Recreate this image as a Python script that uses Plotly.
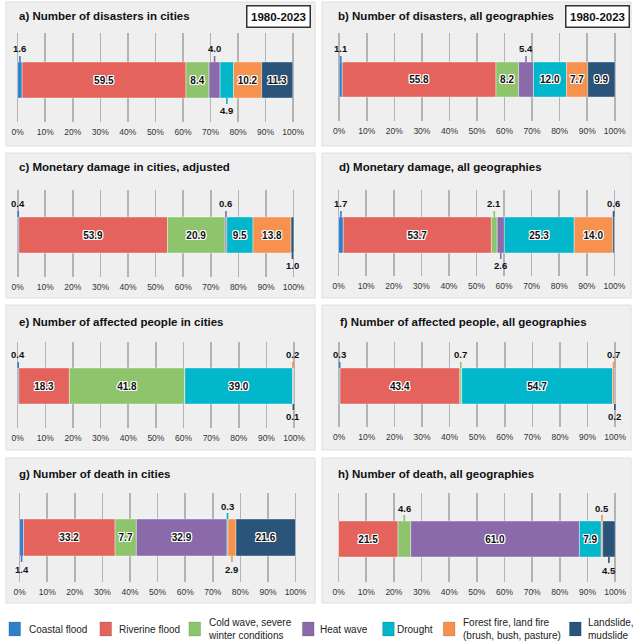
import plotly.graph_objects as go

# ---------------- data ----------------
categories = ["Coastal flood", "Riverine flood", "Cold wave, severe winter conditions",
              "Heat wave", "Drought", "Forest fire, land fire (brush, bush, pasture)",
              "Landslide, mudslide"]
legend_text = ["Coastal flood", "Riverine flood", "Cold wave, severe<br>winter conditions",
               "Heat wave", "Drought", "Forest fire, land fire<br>(brush, bush, pasture)",
               "Landslide,<br>mudslide"]

panel_titles = ["a) Number of disasters in cities",
                "b) Number of disasters, all geographies",
                "c) Monetary damage in cities, adjusted",
                "d) Monetary damage, all geographies",
                "e) Number of affected people in cities",
                "f) Number of affected people, all geographies",
                "g) Number of death in cities",
                "h) Number of death, all geographies"]
period_label = "1980-2023"

x_tick_vals = [0, 10, 20, 30, 40, 50, 60, 70, 80, 90, 100]
x_tick_text = ["0%", "10%", "20%", "30%", "40%", "50%", "60%", "70%", "80%", "90%", "100%"]

vals_a = [1.6, 59.5, 8.4, 4.0, 4.9, 10.2, 11.3]
vals_b = [1.1, 55.8, 8.2, 5.4, 12.0, 7.7, 9.9]
vals_c = [0.4, 53.9, 20.9, 0.6, 9.5, 13.8, 1.0]
vals_d = [1.7, 53.7, 2.1, 2.6, 25.3, 14.0, 0.6]
vals_e = [0.4, 18.3, 41.8, 0.0, 39.0, 0.2, 0.1]
vals_f = [0.3, 43.4, 0.7, 0.0, 54.7, 0.7, 0.2]
vals_g = [1.4, 33.2, 7.7, 32.9, 0.3, 2.9, 21.6]
vals_h = [0.0, 21.5, 4.6, 61.0, 7.9, 0.5, 4.5]

# label placement per segment: "in" inside, "up" above, "dn" below, None = no label
place_a = ["up", "in", "in", "up", "dn", "in", "in"]
place_b = ["up", "in", "in", "up", "in", "in", "in"]
place_c = ["up", "in", "in", "up", "in", "in", "dn"]
place_d = ["up", "in", "up", "dn", "in", "in", "up"]
place_e = ["up", "in", "in", None, "in", "up", "dn"]
place_f = ["up", "in", "up", None, "in", "up", "dn"]
place_g = ["dn", "in", "in", "in", "up", "dn", "in"]
place_h = [None, "in", "up", "in", "in", "up", "dn"]

all_vals = [vals_a, vals_b, vals_c, vals_d, vals_e, vals_f, vals_g, vals_h]
all_place = [place_a, place_b, place_c, place_d, place_e, place_f, place_g, place_h]

# ---------------- style / layout ----------------
colors = ["#2f80cc", "#e4635c", "#8dc46c", "#8b6aab", "#02b6cc", "#f6924d", "#2a5479"]
FONT = "Liberation Sans, Arial, sans-serif"
W, H = 644, 642

def px(x):
    return x / W

def py(y):
    return 1 - y / H

# panel rectangles (pixels): left, top, right, bottom
panel_rects = [(2, 2, 318, 146), (325, 2, 641, 146),
               (2, 153, 318, 298), (325, 153, 641, 298),
               (2, 305, 318, 450), (325, 305, 641, 450),
               (2, 458, 318, 603), (325, 458, 641, 603)]
# x pixel of 0% and 100%
x_geo = [(14, 295.5), (342.7, 624.3), (14, 296), (342, 624),
         (14, 296.5), (342.7, 624.7), (16, 298), (342, 624.7)]
# grid_top, bar_top, bar_bot, grid_bot
y_geo = [(33, 62, 98, 122), (33, 62, 97, 121),
         (190, 217, 253, 277), (190, 217, 253, 276),
         (342, 368, 404, 428), (342, 368, 404, 427),
         (493, 519, 556, 582), (493, 521, 557, 582)]
title_y = [16, 16, 167, 167, 322, 322, 474, 474]
title_x = [13, 339, 13, 340, 13, 341, 13, 339]

fig = go.Figure()
shapes = []
annotations = []
layout_axes = {}

halo = ("1px 1px 0 #fff, -1px -1px 0 #fff, 1px -1px 0 #fff, -1px 1px 0 #fff, "
        "0 1px 0 #fff, 0 -1px 0 #fff, 1px 0 0 #fff, -1px 0 0 #fff")

for i in range(8):
    n = "" if i == 0 else str(i + 1)
    xa, ya = "x" + n, "y" + n
    l, t, r, b = panel_rects[i]
    shapes.append(dict(type="rect", xref="paper", yref="paper",
                       x0=px(l), x1=px(r), y0=py(b), y1=py(t),
                       fillcolor="#efefef", line=dict(color="#dedede", width=1),
                       layer="below"))
    x0, x100 = x_geo[i]
    ppu = (x100 - x0) / 100.0
    ext = 0.6
    gt, bt, bb, gb = y_geo[i]
    p = bb - bt
    r_top = 0.5 + (bt - gt) / p
    r_bot = -0.5 - (gb - bb) / p
    layout_axes["xaxis" + n] = dict(
        domain=[px(x0 - ext * ppu), px(x100 + ext * ppu)],
        range=[-ext, 100 + ext], anchor=ya,
        tickvals=x_tick_vals, ticktext=x_tick_text,
        showgrid=True, gridcolor="#b3b3b3", gridwidth=1.6,
        zeroline=False, showline=False, ticks="",
        ticklabelstandoff=3,
        tickfont=dict(family=FONT, size=8.5, color="#333"),
        fixedrange=True)
    layout_axes["yaxis" + n] = dict(
        domain=[py(gb), py(gt)], range=[r_bot, r_top], anchor=xa,
        showgrid=False, zeroline=False, showline=False,
        showticklabels=False, ticks="", fixedrange=True)

    vals = all_vals[i]
    places = all_place[i]
    cum = 0.0
    for j, v in enumerate(vals):
        pl = places[j]
        inside = pl == "in"
        fig.add_trace(go.Bar(
            x=[v], y=[0], base=[cum], orientation="h", width=1,
            marker=dict(color=colors[j], line=dict(color="rgba(255,255,255,0.55)", width=0.7)),
            xaxis=xa, yaxis=ya, showlegend=False, name=categories[j],
            text=[f"{v:.1f}"] if inside else None,
            textposition="inside" if inside else "none",
            insidetextanchor="middle", textangle=0, constraintext="none",
            textfont=dict(family=FONT, size=10, color="#111", weight="bold", shadow=halo),
            hoverinfo="skip"))
        if pl in ("up", "dn"):
            annotations.append(dict(
                x=cum + v / 2.0, y=0.5 if pl == "up" else -0.5,
                xref=xa, yref=ya, text=f"<b>{v:.1f}</b>",
                showarrow=True, arrowhead=0, arrowwidth=1.6,
                arrowcolor=colors[j], ax=0, ay=-13 if pl == "up" else 13,
                standoff=0, startstandoff=0,
                font=dict(family=FONT, size=9.5, color="#111")))
        cum += v

    annotations.append(dict(
        x=px(title_x[i]), y=py(title_y[i]), xref="paper", yref="paper",
        xanchor="left", yanchor="middle", showarrow=False,
        text=f"<b>{panel_titles[i]}</b>",
        font=dict(family=FONT, size=11.5, color="#111")))

# period boxes in panels a and b
for cx in (280.5, 606.5):
    annotations.append(dict(
        x=px(cx), y=py(17), xref="paper", yref="paper",
        xanchor="center", yanchor="middle", showarrow=False,
        text=f"<b>{period_label}</b>", width=58, height=16,
        bgcolor="#ffffff", bordercolor="#333333", borderwidth=1.5, borderpad=2,
        font=dict(family=FONT, size=11.5, color="#111")))

# legend (manual)
leg_sq_x = [5, 98, 189, 305, 387, 449, 578]
leg_tx_x = [23, 115, 206, 321, 400, 467, 595]
for j in range(7):
    shapes.append(dict(type="rect", xref="paper", yref="paper",
                       x0=px(leg_sq_x[j]), x1=px(leg_sq_x[j] + 12),
                       y0=py(636), y1=py(622),
                       fillcolor=colors[j], line=dict(color="rgba(0,0,0,0.15)", width=0.8)))
    annotations.append(dict(
        x=px(leg_tx_x[j]), y=py(629), xref="paper", yref="paper",
        xanchor="left", yanchor="middle", align="left", showarrow=False,
        text=legend_text[j], font=dict(family=FONT, size=10, color="#222")))

fig.update_layout(
    width=W, height=H, margin=dict(l=0, r=0, t=0, b=0),
    paper_bgcolor="#ffffff", plot_bgcolor="rgba(0,0,0,0)",
    barmode="overlay", showlegend=False,
    shapes=shapes, annotations=annotations,
    font=dict(family=FONT),
    **layout_axes)

fig.write_html("out.html",
               config={"displayModeBar": False, "staticPlot": True},
               post_script="document.body.style.margin='0px';document.body.style.padding='0px';")
